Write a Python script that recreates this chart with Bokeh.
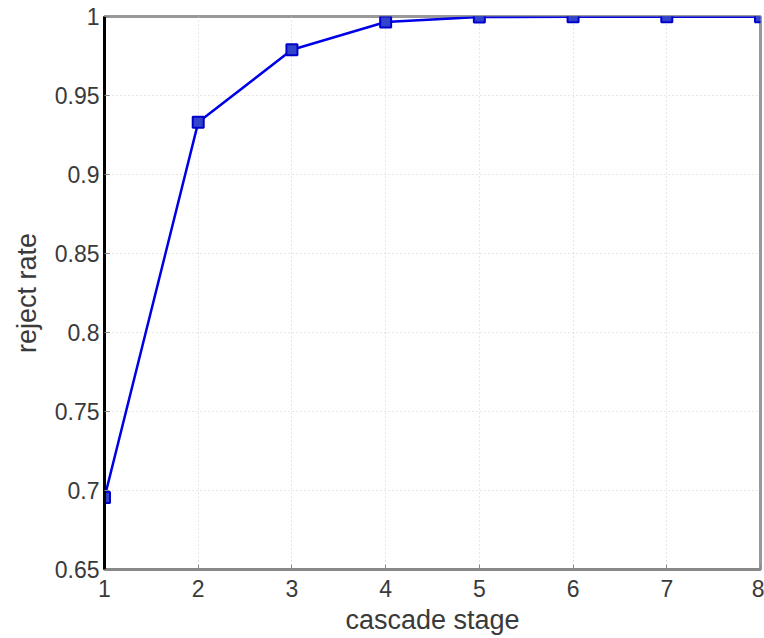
from bokeh.plotting import figure
from bokeh.embed import file_html
from bokeh.resources import INLINE
from bokeh.models import Range1d, FixedTicker

stages = [1, 2, 3, 4, 5, 6, 7, 8]
reject_rate = [0.6955, 0.933, 0.979, 0.9965, 0.9997, 0.9998, 0.9999, 0.9999]
x_ticks = [1, 2, 3, 4, 5, 6, 7, 8]
y_ticks = [0.65, 0.7, 0.75, 0.8, 0.85, 0.9, 0.95, 1.0]

p = figure(width=764, height=638, output_backend="svg", toolbar_location=None,
           x_range=Range1d(1, 8), y_range=Range1d(0.65, 1.0),
           min_border_left=104, min_border_right=4, min_border_top=16, min_border_bottom=69)

p.line(stages, reject_rate, line_color="#0000e6", line_width=2.5)
p.scatter(stages, reject_rate, marker="square", size=11, line_color="#0000cc",
          fill_color="#3344cc", line_width=2)

p.xaxis.ticker = FixedTicker(ticks=x_ticks)
p.yaxis.ticker = FixedTicker(ticks=y_ticks)
p.yaxis.major_label_overrides = {0.65: "0.65", 0.7: "0.7", 0.75: "0.75", 0.8: "0.8",
                                 0.85: "0.85", 0.9: "0.9", 0.95: "0.95", 1.0: "1"}
p.xaxis.axis_label = "cascade stage"
p.yaxis.axis_label = "reject rate"
for ax in (p.xaxis, p.yaxis):
    ax.axis_label_text_font = "Liberation Sans"
    ax.axis_label_text_font_style = "normal"
    ax.axis_label_text_font_size = "27px"
    ax.axis_label_text_color = "#3a3a3a"
    ax.major_label_text_font = "Liberation Sans"
    ax.major_label_text_font_size = "23px"
    ax.major_label_text_color = "#3a3a3a"
    ax.minor_tick_line_color = None
    ax.major_tick_in = 5
    ax.major_tick_out = 0
    ax.major_tick_line_color = "#888888"
p.xaxis.axis_line_color = "#888888"
p.xaxis.axis_line_width = 3
p.yaxis.axis_line_color = "#000000"
p.yaxis.axis_line_width = 3
p.xaxis.axis_label_standoff = 5
p.yaxis.axis_label_standoff = 10
p.xaxis.major_label_standoff = 10
p.yaxis.major_label_standoff = 5

p.outline_line_color = "#999999"
p.outline_line_width = 3
p.grid.grid_line_color = "#cccccc"
p.grid.grid_line_dash = "1 3"
p.grid.grid_line_width = 1

open("out.html", "w").write(file_html(p, INLINE))
